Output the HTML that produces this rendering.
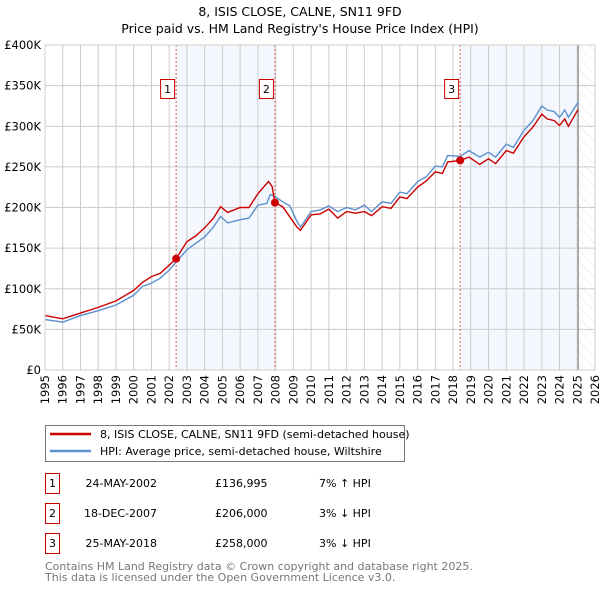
<!DOCTYPE html>
<html><head><meta charset="utf-8"><style>
body{margin:0;background:#fff;width:600px;height:590px;overflow:hidden;font-family:"DejaVu Sans","Liberation Sans",sans-serif;}
svg text{font-family:"DejaVu Sans","Liberation Sans",sans-serif;}
</style></head><body>
<svg id="chart" width="600" height="590" viewBox="0 0 600 590" xmlns="http://www.w3.org/2000/svg">
<defs><pattern id="hatch" width="8" height="8" patternUnits="userSpaceOnUse" patternTransform="rotate(-45)"><line x1="0" y1="0" x2="0" y2="8" stroke="#ddd" stroke-width="0.8"/></pattern></defs>
<text x="300" y="16" text-anchor="middle" font-size="12.5">8, ISIS CLOSE, CALNE, SN11 9FD</text>
<text x="300" y="33" text-anchor="middle" font-size="12.5">Price paid vs. HM Land Registry's House Price Index (HPI)</text>
<g id="plot"></g>
<g>
<rect x="45.5" y="425.5" width="359" height="36" fill="#fff" stroke="#777"/>
<line x1="50" y1="434" x2="91" y2="434" stroke="#cc0000" stroke-width="2.5"/>
<text x="100" y="438" font-size="11">8, ISIS CLOSE, CALNE, SN11 9FD (semi-detached house)</text>
<line x1="50" y1="451" x2="91" y2="451" stroke="#5b8fd0" stroke-width="2.5"/>
<text x="100" y="455" font-size="11">HPI: Average price, semi-detached house, Wiltshire</text>
</g>
<g id="table" font-size="11"></g>
<text x="45" y="570" font-size="11" fill="#777">Contains HM Land Registry data © Crown copyright and database right 2025.</text>
<text x="45" y="581" font-size="11" fill="#777">This data is licensed under the Open Government Licence v3.0.</text>
</svg>
<script>
const hpiYears=[1995,1996,1997,1998,1999,2000,2000.5,2001,2001.5,2002,2002.4,2003,2003.5,2004,2004.5,2004.9,2005.3,2006,2006.5,2007,2007.5,2007.7,2008,2008.4,2008.8,2009.2,2009.4,2010,2010.5,2011,2011.5,2012,2012.5,2013,2013.4,2014,2014.5,2015,2015.4,2016,2016.5,2017,2017.4,2017.7,2018.4,2018.9,2019.5,2020,2020.4,2021,2021.4,2022,2022.5,2023,2023.3,2023.7,2024,2024.3,2024.5,2025,2025.05];
const hpiValues=[62,59,67,73,80,92,103,107,113,123,133,148,156,164,176,189,181,185,187,203,205,216,213,207,202,183,176,195,197,202,195,200,197,203,195,207,205,219,217,232,238,251,250,264,263,270,262,268,262,278,274,295,307,325,320,318,311,320,311,328,329];
const priceYears=[1995,1996,1997,1998,1999,2000,2000.5,2001,2001.5,2002,2002.39,2003,2003.5,2004,2004.5,2004.9,2005.3,2006,2006.5,2007,2007.6,2007.8,2007.96,2008.4,2009.2,2009.4,2010,2010.5,2011,2011.5,2012,2012.5,2013,2013.4,2014,2014.5,2015,2015.4,2016,2016.5,2017,2017.4,2017.7,2018.4,2018.9,2019.5,2020,2020.4,2021,2021.4,2022,2022.5,2023,2023.3,2023.7,2024,2024.3,2024.5,2025,2025.05];
const priceValues=[67,63,70,77,85,98,108,115,119,129,137,158,165,175,187,201,194,200,200,217,232,226,206,201,176,172,191,192,198,187,195,193,195,190,201,199,213,211,225,233,244,242,256,258,262,253,260,254,270,267,287,299,315,309,307,301,309,300,319,320];
const saleYears=[2002.39,2007.96,2018.40];
const salePrices=[136995,206000,258000];
const saleLabels=["1","2","3"];
const saleDates=["24-MAY-2002","18-DEC-2007","25-MAY-2018"];
const salePriceText=["£136,995","£206,000","£258,000"];
const saleHpiText=["7% ↑ HPI","3% ↓ HPI","3% ↓ HPI"];
const yTicks=[0,50,100,150,200,250,300,350,400];
const yTickLabels=["£0","£50K","£100K","£150K","£200K","£250K","£300K","£350K","£400K"];
const xTicks=[1995,1996,1997,1998,1999,2000,2001,2002,2003,2004,2005,2006,2007,2008,2009,2010,2011,2012,2013,2014,2015,2016,2017,2018,2019,2020,2021,2022,2023,2024,2025,2026];
const dataEnd=2025.05;

const L=45,R=595,T=45,B=370,NS="http://www.w3.org/2000/svg";
const x=v=>L+(v-1995)/(2026-1995)*(R-L);
const y=v=>B-v/400*(B-T);
const plot=document.getElementById('plot');
function mk(tag,attrs,parent){const e=document.createElementNS(NS,tag);for(const k in attrs)e.setAttribute(k,attrs[k]);(parent||plot).appendChild(e);return e;}
let s1=mk('rect',{x:x(saleYears[0]),y:T,width:x(saleYears[1])-x(saleYears[0]),height:B-T,fill:'#f4f7fd'});


let s2=mk('rect',{x:x(saleYears[2]),y:T,width:x(dataEnd)-x(saleYears[2]),height:B-T,fill:'#f4f7fd'});


let h=mk('rect',{x:x(dataEnd),y:T,width:R-x(dataEnd),height:B-T,fill:'url(#hatch)'});


yTicks.forEach((t,i)=>{
 let g=mk('line',{x1:L,x2:R,y1:y(t),y2:y(t),stroke:'#ccc','stroke-width':1});
 
 
 let tx=mk('text',{x:L-4,y:y(t)+4,'text-anchor':'end','font-size':11.5});
 tx.textContent=yTickLabels[i];
 
 
});
xTicks.forEach(t=>{
 let g=mk('line',{x1:x(t),x2:x(t),y1:T,y2:B,stroke:'#ccc','stroke-width':1});
 
 
 let tx=mk('text',{x:0,y:0,'text-anchor':'end','font-size':11.5,transform:`translate(${x(t)+4},${B+5}) rotate(-90)`});
 tx.textContent=t;
 
 
});
let el=mk('line',{x1:x(dataEnd),x2:x(dataEnd),y1:T,y2:B,stroke:'#888','stroke-width':1.2});


saleYears.forEach((s,i)=>{
 let v=mk('line',{x1:x(s),x2:x(s),y1:T,y2:B,stroke:'#e06060','stroke-width':1,'stroke-dasharray':'2,2'});
 
 
 let b=mk('rect',{x:x(s)-15.5,y:79.5,width:14,height:19,fill:'#fff',stroke:'#cc0000'});
 
 
 let t=mk('text',{x:x(s)-8.5,y:93,'text-anchor':'middle','font-size':11});
 t.textContent=saleLabels[i];
 
 
});
function path(xs,vs){return xs.map((a,i)=>(i?'L':'M')+x(a).toFixed(1)+','+y(vs[i]).toFixed(1)).join('');}
let hp=mk('path',{d:path(hpiYears,hpiValues),fill:'none',stroke:'#5b8fd0','stroke-width':1.4});


let pp=mk('path',{d:path(priceYears,priceValues),fill:'none',stroke:'#cc0000','stroke-width':1.4});


saleYears.forEach((s,i)=>{
 let c=mk('circle',{cx:x(s),cy:y(salePrices[i]/1000),r:4,fill:'#cc0000'});
 
 
});
let fr=mk('rect',{x:L,y:T,width:R-L,height:B-T,fill:'none',stroke:'#ccc'});


const tb=document.getElementById('table');
saleLabels.forEach((lab,i)=>{
 const cy=483+i*30;
 let b=mk('rect',{x:45.5,y:cy-9.5,width:14,height:20,fill:'#fff',stroke:'#cc0000'},tb);
 
 
 let t=mk('text',{x:52.5,y:cy+4,'text-anchor':'middle'},tb);t.textContent=lab;
 
 
 let d=mk('text',{x:157,y:cy+4,'text-anchor':'end'},tb);d.textContent=saleDates[i];
 
 
 let p=mk('text',{x:215,y:cy+4},tb);p.textContent=salePriceText[i];
 
 
 let q=mk('text',{x:319,y:cy+4},tb);q.textContent=saleHpiText[i];
 
 
});
</script>
</body></html>
